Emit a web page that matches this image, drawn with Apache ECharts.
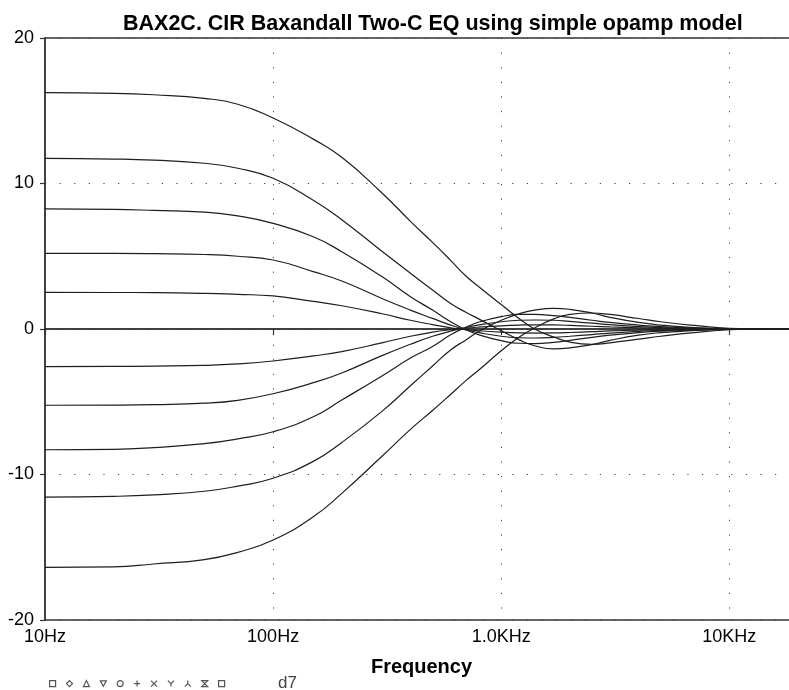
<!DOCTYPE html>
<html>
<head>
<meta charset="utf-8">
<script src="https://cdn.jsdelivr.net/npm/echarts@6/dist/echarts.min.js"></script>
<style>
html,body{margin:0;padding:0;background:#fff;overflow:hidden;}
#chart{width:789px;height:690px;}
</style>
</head>
<body>
<div id="chart"></div>
<script>
// Frequencies (Hz)
var freqs = [10,20,30,50,70,100,150,200,300,400,500,600,700,800,1000,1200,1400,1700,2000,2500,3000,4000,5000,7000,10000,15000,20000];
// Gain curves (dB)
var boost16 = [16.24,16.2,16.1,15.85,15.45,14.5,13.05,11.8,9.35,7.4,5.95,4.72,3.64,2.89,1.68,0.71,0.0,-0.55,-0.9,-1.05,-0.95,-0.7,-0.5,-0.25,-0.05,0,0];
var boost11 = [11.73,11.68,11.6,11.39,11.05,10.36,8.85,7.51,5.34,3.83,2.68,1.75,1.15,0.68,-0.12,-0.75,-1.15,-1.37,-1.3,-1.07,-0.78,-0.42,-0.25,-0.1,-0.02,0,0];
var boost8 = [8.25,8.22,8.15,8.03,7.77,7.26,6.34,5.31,3.6,2.22,1.3,0.5,-0.05,-0.4,-0.8,-0.98,-1.0,-0.92,-0.78,-0.57,-0.42,-0.25,-0.15,-0.07,-0.02,0,0];
var boost5 = [5.2,5.2,5.18,5.12,5.0,4.74,3.94,3.3,2.1,1.3,0.73,0.27,-0.05,-0.25,-0.5,-0.6,-0.62,-0.58,-0.5,-0.38,-0.28,-0.16,-0.1,-0.04,-0.01,0,0];
var boost2 = [2.52,2.51,2.5,2.45,2.38,2.27,1.9,1.6,1.05,0.6,0.3,0.08,-0.05,-0.12,-0.22,-0.27,-0.28,-0.27,-0.24,-0.18,-0.13,-0.08,-0.05,-0.02,0,0,0];
var flat0 = [0,0,0,0,0,0,0,0,0,0,0,0,0,0,0,0,0,0,0,0,0,0,0,0,0,0,0];
var cut2 = [-2.59,-2.57,-2.55,-2.5,-2.4,-2.2,-1.85,-1.55,-0.95,-0.5,-0.22,-0.05,0.06,0.13,0.22,0.27,0.29,0.28,0.25,0.19,0.14,0.08,0.05,0.02,0,0,0];
var cut5 = [-5.24,-5.23,-5.2,-5.1,-4.9,-4.45,-3.69,-3.02,-1.83,-1.05,-0.5,-0.15,0.1,0.28,0.5,0.6,0.62,0.6,0.52,0.4,0.3,0.17,0.1,0.04,0.01,0,0];
var cut8 = [-8.3,-8.27,-8.15,-7.88,-7.55,-7.06,-6.03,-4.88,-3.23,-2.0,-1.2,-0.4,0.12,0.48,0.85,1.0,1.0,0.92,0.8,0.6,0.45,0.27,0.16,0.07,0.02,0,0];
var cut11 = [-11.55,-11.5,-11.4,-11.15,-10.8,-10.26,-9.1,-7.8,-5.66,-3.9,-2.54,-1.44,-0.75,-0.15,0.6,1.05,1.3,1.42,1.35,1.1,0.8,0.45,0.27,0.1,0.02,0,0];
var cut16 = [-16.38,-16.35,-16.15,-15.85,-15.35,-14.5,-12.9,-11.3,-8.75,-6.9,-5.6,-4.5,-3.55,-2.8,-1.5,-0.55,0.07,0.7,1.0,1.1,1.0,0.72,0.5,0.25,0.05,0,0];

var curves = [boost16, boost11, boost8, boost5, boost2, flat0, cut2, cut5, cut8, cut11, cut16];
var curveNames = ['d1','d2','d3','d4','d5','d6','d7','d8','d9','d10','d11'];
var legendIcons = [
  'rect','diamond','triangle','path://M0,0L10,0L5,9Z','circle',
  'path://M5,0L5,10M0,5L10,5','path://M0,0L10,10M10,0L0,10',
  'path://M0,0L5,5L10,0M5,5L5,10','path://M5,0L5,5M0,10L5,5L10,10',
  'path://M0,0L10,0L0,10L10,10Z','rect'
];
var xTickLabels = {10:'10Hz',100:'100Hz',1000:'1.0KHz',10000:'10KHz'};

var chart = echarts.init(document.getElementById('chart'), null, {renderer:'canvas'});
var FONT = "'Liberation Sans', Arial, sans-serif";
var gridDot = {color:'#444', width:1, type:[1.2,13.4]};

var series = curves.map(function(vals, i){
  return {
    name: curveNames[i],
    type: 'line',
    data: freqs.map(function(f, j){ return [f, vals[j]]; }),
    showSymbol: false,
    symbol: 'none',
    smooth: 0.5,
    lineStyle: {color:'#1e1e1e', width:1.2},
    itemStyle: {color:'#1e1e1e'},
    animation: false,
    z: 3
  };
});

var option = {
  animation: false,
  backgroundColor: '#fff',
  title: {
    text: 'BAX2C. CIR Baxandall Two-C EQ using simple opamp model',
    left: 118, top: 8,
    textStyle: {fontFamily: FONT, fontWeight:'bold', fontSize: 21.5, color:'#000'}
  },
  grid: {left: 45, width: 753, top: 38, height: 582, outerBoundsMode: 'none', containLabel: false,
         show: true, borderColor:'#333', borderWidth:1.4, backgroundColor:'transparent'},
  legend: {
    left: 49, top: 680, padding: 0,
    itemWidth: 6, itemHeight: 6, itemGap: 9.7,
    formatter: function(){ return ''; },
    selectedMode: false,
    itemStyle: {color:'rgba(0,0,0,0)', borderColor:'#555', borderWidth:1.2},
    data: curveNames.map(function(n, i){ return {name:n, icon: legendIcons[i]}; })
  },
  graphic: [{
    type:'text', left: 278, top: 675,
    style: {text:'d7', font: '17px ' + FONT, fill:'#444'}
  }],
  xAxis: {
    type: 'log', logBase: 10, min: 10, max: 20000,
    name: 'Frequency', nameLocation: 'middle', nameGap: 37,
    nameTextStyle: {fontFamily: FONT, fontWeight:'bold', fontSize: 20, color:'#000'},
    axisLine: {show:true, lineStyle:{color:'#333', width:1.5}},
    axisTick: {show:true, length:6, lineStyle:{color:'#333', width:1.2}},
    axisLabel: {
      fontFamily: FONT, fontSize: 18, color:'#000', margin: 8,
      formatter: function(v){ var k = Math.round(v); return xTickLabels[k] || ''; }
    },
    splitLine: {show:true, lineStyle: gridDot},
    minorTick: {show:false}
  },
  yAxis: {
    type: 'value', min: -20, max: 20, interval: 10,
    axisLine: {show:true, lineStyle:{color:'#333', width:1.5}},
    axisTick: {show:true, length:5, lineStyle:{color:'#333', width:1.2}},
    axisLabel: {fontFamily: FONT, fontSize: 18, color:'#000', margin: 11},
    splitLine: {show:true, lineStyle: gridDot}
  },
  series: series
};
chart.setOption(option);
</script>
</body>
</html>
